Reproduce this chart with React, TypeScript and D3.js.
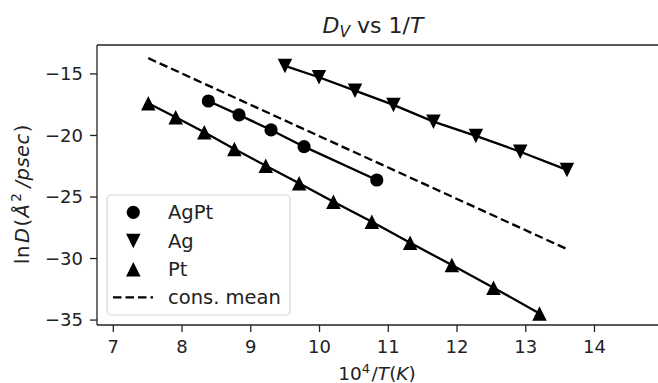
import React from "react";
import * as d3 from "d3";

const agptX = [8.383, 8.829, 9.295, 9.775, 10.833];
const agptY = [-17.2, -18.33, -19.55, -20.91, -23.62];

const agX = [9.497, 9.992, 10.516, 11.075, 11.657, 12.274, 12.92, 13.599];
const agY = [-14.35, -15.27, -16.36, -17.52, -18.88, -20.04, -21.32, -22.8];

const ptX = [7.509, 7.908, 8.324, 8.761, 9.218, 9.703, 10.202, 10.761, 11.318, 11.925, 12.531, 13.2];
const ptY = [-17.38, -18.52, -19.74, -21.1, -22.46, -23.89, -25.38, -27.01, -28.72, -30.53, -32.37, -34.46];

const meanX = [7.509, 13.599];
const meanY = [-13.72, -29.23];

const xTicks = [7, 8, 9, 10, 11, 12, 13, 14];
const yTicks = [-15, -20, -25, -30, -35];

const legendLabels = ["AgPt", "Ag", "Pt", "cons. mean"];

const W = 658;
const H = 383;
const left = 97;
const top = 45;
const bottom = 325;
const right = 677;
const FONT = "DejaVu Sans, sans-serif";

const triUp = {
  draw(ctx: any, size: number) {
    const s = Math.sqrt(size) / 2;
    ctx.moveTo(0, -s);
    ctx.lineTo(-s, s);
    ctx.lineTo(s, s);
    ctx.closePath();
  },
};
const triDown = {
  draw(ctx: any, size: number) {
    const s = Math.sqrt(size) / 2;
    ctx.moveTo(0, s);
    ctx.lineTo(-s, -s);
    ctx.lineTo(s, -s);
    ctx.closePath();
  },
};

export default function App() {
  const x = d3.scaleLinear().domain([6.763, 15.2]).range([left, right]);
  const y = d3.scaleLinear().domain([-35.4, -12.65]).range([bottom, top]);
  const line = d3
    .line<[number, number]>()
    .x((d) => x(d[0]))
    .y((d) => y(d[1]));
  const zip = (a: number[], b: number[]) => a.map((v, i) => [v, b[i]] as [number, number]);

  const circlePath = d3.symbol(d3.symbolCircle, Math.PI * 6.6 * 6.6)()!;
  const upPath = d3.symbol(triUp as any, 14.5 * 14.5)()!;
  const downPath = d3.symbol(triDown as any, 14.5 * 14.5)()!;

  const series = [
    { xs: agptX, ys: agptY, path: circlePath },
    { xs: agX, ys: agY, path: downPath },
    { xs: ptX, ys: ptY, path: upPath },
  ];

  const legendY = [212.3, 241, 269.3, 297.3];
  const legendPaths = [circlePath, downPath, upPath];

  return (
    <svg width={W} height={H} style={{ position: "absolute", left: 0, top: 0, background: "#fff" }} fontFamily={FONT}>
      <rect x={0} y={0} width={W} height={H} fill="#fff" />
      {series.map((s, i) => (
        <path key={"l" + i} d={line(zip(s.xs, s.ys))!} fill="none" stroke="#000" strokeWidth={2.3} />
      ))}
      <path d={line(zip(meanX, meanY))!} fill="none" stroke="#000" strokeWidth={2.3} strokeDasharray="8.5,4" />
      {series.map((s, i) =>
        s.xs.map((v, j) => (
          <path key={"m" + i + "-" + j} d={s.path} transform={`translate(${x(v)},${y(s.ys[j])})`} fill="#000" />
        ))
      )}
      <line x1={left} x2={left} y1={top} y2={bottom} stroke="#222" strokeWidth={1.3} />
      <line x1={left} x2={W + 5} y1={top} y2={top} stroke="#222" strokeWidth={1.3} />
      <line x1={left} x2={W + 5} y1={bottom} y2={bottom} stroke="#222" strokeWidth={1.3} />
      {xTicks.map((t) => (
        <g key={"xt" + t} transform={`translate(${x(t)},${bottom})`}>
          <line y1={0} y2={7} stroke="#222" strokeWidth={1.3} />
          <text y={28} textAnchor="middle" fontSize={18} fill="#222">
            {t}
          </text>
        </g>
      ))}
      {yTicks.map((t) => (
        <g key={"yt" + t} transform={`translate(${left},${y(t)})`}>
          <line x1={0} x2={-7} stroke="#222" strokeWidth={1.3} />
          <text x={-14} dy="0.35em" textAnchor="end" fontSize={18} fill="#222">
            {d3.format("d")(t)}
          </text>
        </g>
      ))}
      <text x={373} y={33} textAnchor="middle" fontSize={22} fill="#222">
        <tspan fontStyle="italic">D</tspan>
        <tspan fontStyle="italic" fontSize={15.5} dy={4}>V</tspan>
        <tspan dy={-4}> vs 1/</tspan>
        <tspan fontStyle="italic">T</tspan>
      </text>
      <text x={377} y={380} textAnchor="middle" fontSize={18.5} fill="#222">
        <tspan>10</tspan>
        <tspan fontSize={13} dy={-7.5}>4</tspan>
        <tspan dy={7.5} dx={1.5}>/</tspan>
        <tspan fontStyle="italic">T</tspan>
        <tspan>(</tspan>
        <tspan fontStyle="italic">K</tspan>
        <tspan>)</tspan>
      </text>
      <text transform="translate(29,194) rotate(-90)" textAnchor="middle" fontSize={19.5} letterSpacing={0.5} fill="#222">
        <tspan>ln</tspan>
        <tspan fontStyle="italic" dx={2}>D</tspan>
        <tspan dx={1}>(</tspan>
        <tspan fontStyle="italic" dx={1}>Å</tspan>
        <tspan fontSize={13.5} dy={-8} dx={2}>2</tspan>
        <tspan dy={8} dx={5} fontStyle="italic">/psec</tspan>
        <tspan dx={1}>)</tspan>
      </text>
      <rect x={107} y={195} width={183} height={120} rx={4} fill="#fff" fillOpacity={0.8} stroke="#d6d6d6" strokeWidth={1.2} />
      {legendPaths.map((p, i) => (
        <path key={"lg" + i} d={p} transform={`translate(133.3,${legendY[i]})`} fill="#000" />
      ))}
      <line x1={113} x2={153} y1={legendY[3]} y2={legendY[3]} stroke="#000" strokeWidth={2.3} strokeDasharray="8.5,4" />
      {legendLabels.map((l, i) => (
        <text key={"lt" + i} x={168} y={legendY[i]} dy="0.35em" fontSize={19.5} fill="#222">
          {l}
        </text>
      ))}
    </svg>
  );
}
